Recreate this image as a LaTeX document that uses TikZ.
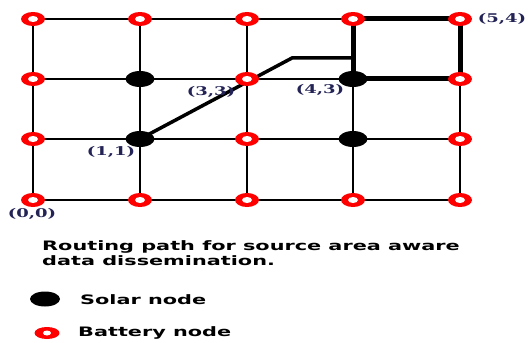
\documentclass[tikz,border=0pt]{standalone}
\usepackage{graphicx}
\usepackage{fontspec}
\setmainfont{DejaVu Serif}
\newfontfamily\capfont{DejaVu Sans}
\usetikzlibrary{shapes.geometric}
\pgfdeclarelayer{background}
\pgfsetlayers{background,main}
\definecolor{labelnavy}{RGB}{35,35,85}
\begin{document}
\begin{tikzpicture}[x=1pt,y=-1pt,
  battery/.style={ellipse, fill=red, minimum width=24pt, minimum height=14pt, inner sep=0pt,
    path picture={\fill[white] (path picture bounding box.center) ellipse [x radius=5pt, y radius=3pt];}},
  legbattery/.style={ellipse, fill=red, minimum width=25pt, minimum height=12pt, inner sep=0pt,
    path picture={\fill[white] (path picture bounding box.center) ellipse [x radius=4pt, y radius=2.5pt];}},
  solar/.style={ellipse, fill=black, minimum width=29pt, minimum height=16pt, inner sep=0pt},
  gridline/.style={line width=1.3pt},
  route/.style={line width=3.5pt},
  routebold/.style={line width=5pt},
  coordlabel/.style={font=\bfseries\fontsize{12}{12}\selectfont, text=labelnavy, inner sep=0pt},
  captext/.style={font=\capfont\bfseries\fontsize{13}{15}\selectfont, inner sep=0pt, anchor=west, align=left}]
\useasboundingbox (0,0) rectangle (529,342);
% grid nodes: columns and rows
\foreach \i/\x in {0/33,1/140,2/247,3/353,4/460}{
  \foreach \j/\y in {0/200,1/139,2/79,3/19}{
    \node[battery] (n-\i-\j) at (\x,\y) {};
  }
}
% solar nodes
\node[solar] (s-1-2) at (140,79) {};
\node[solar] (s-1-1) at (140,139) {};
\node[solar] (s-3-2) at (353,79) {};
\node[solar] (s-3-1) at (353,139) {};
\coordinate (b1) at (292,58);
\coordinate (b2) at (353,58);
\begin{pgfonlayer}{background}
  \foreach \j in {0,1,2,3}{
    \draw[gridline] (n-0-\j.center) -- (n-1-\j.center) -- (n-2-\j.center) -- (n-3-\j.center) -- (n-4-\j.center);
  }
  \foreach \i in {0,1,2,3,4}{
    \draw[gridline] (n-\i-0.center) -- (n-\i-1.center) -- (n-\i-2.center) -- (n-\i-3.center);
  }
  \draw[route, line join=miter] (s-1-1.center) -- (b1) -- (b2);
  \draw[routebold, line join=miter] (n-3-3.center) -- (s-3-2.center) -- (n-4-2.center) -- (n-4-3.center) -- cycle;
\end{pgfonlayer}
% coordinate labels
\node[coordlabel] (l00) at (32,214) {\scalebox{1.5}[1]{(0,0)}};
\node[coordlabel] (l11) at (111,152) {\scalebox{1.5}[1]{(1,1)}};
\node[coordlabel] (l33) at (211,92) {\scalebox{1.5}[1]{(3,3)}};
\node[coordlabel] (l43) at (320,90) {\scalebox{1.5}[1]{(4,3)}};
\node[coordlabel] (l54) at (502,19) {\scalebox{1.5}[1]{(5,4)}};
% caption
\node[captext] (cap) at (42,253) {\scalebox{1.6}[1]{Routing path for source area aware}\\\scalebox{1.6}[1]{data dissemination.}};
% legend
\node[solar, minimum width=30pt, minimum height=15pt] (legs) at (45,299) {};
\node[captext] (legst) at (80,300) {\scalebox{1.6}[1]{Solar node}};
\node[legbattery] (legb) at (47,333) {};
\node[captext] (legbt) at (78,333) {\scalebox{1.6}[1]{Battery node}};
\end{tikzpicture}
\end{document}
